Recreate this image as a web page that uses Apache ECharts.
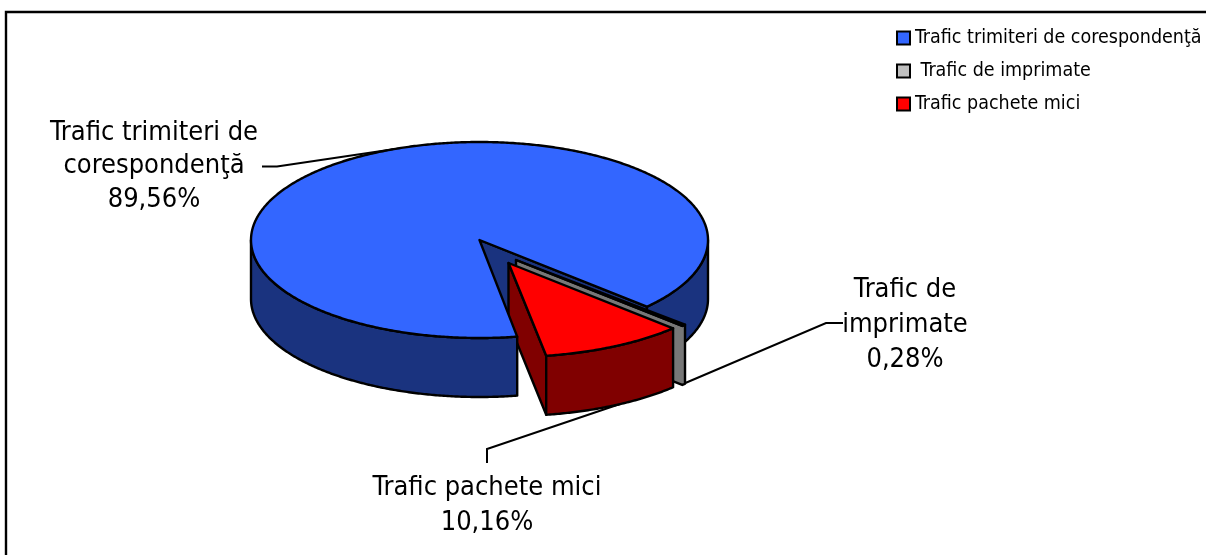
<!DOCTYPE html>
<html>
<head>
<meta charset="utf-8">
<style>html,body{margin:0;padding:0;background:#fff}#chart{width:1206px;height:555px}</style>
<script src="https://cdn.jsdelivr.net/npm/echarts@6/dist/echarts.min.js"></script>
</head>
<body>
<div id="chart"></div>
<script>
const categories = ['Trafic trimiteri de corespondenţă', 'Trafic de imprimate', 'Trafic pachete mici'];
const values = [89.56, 0.28, 10.16];
const labelLines = [['Trafic trimiteri de', 'corespondenţă'], ['Trafic de', 'imprimate'], ['Trafic pachete mici']];

const FONT = '"DejaVu Sans Condensed", "DejaVu Sans", sans-serif';
const STROKE = '#000';

// pie drawn as a tilted ellipse, angles are clockwise from 12 o'clock
const pie = { cx: 479.5, cy: 240, rx: 228.5, ry: 98, depth: 59, start: 170.5 };

const sliceStyles = [
  { top: '#3366ff', side: '#1a337f', dx: 0, dy: 0, sx: 1, sy: 1, zWall: 2, zBand: 6, zBandBack: 1 },
  { top: '#c0c0c0', side: '#777777', dx: 36.5, dy: 20, sx: 1.01, sy: 0.97, zWall: 3, zBand: 3, zBandBack: 3, thin: true },
  { top: '#ff0000', side: '#800000', dx: 29, dy: 23, sx: 1, sy: 0.96, zWall: 4, zBand: 5, zBandBack: 5 }
];

const labelLayout = [
  { x: 154, y: 166, lh: 33.5, line: [[262, 166.5], [277, 166.5], [395, 149]] },
  { x: 905, y: 325, lh: 35, line: [[843, 323], [826, 323], [683, 384]] },
  { x: 487, y: 505, lh: 35, line: [[487, 463], [487, 449], [620, 404]] }
];

const total = values.reduce((a, b) => a + b, 0);

const sliceRange = index => {
  let from = pie.start;
  for (let i = 0; i < index; i++) from += (values[i] / total) * 360;
  return [from, from + (values[index] / total) * 360];
};

const pointAt = (s, deg, drop = 0) => {
  const rad = (deg * Math.PI) / 180;
  return [
    pie.cx + s.dx + pie.rx * s.sx * Math.sin(rad),
    pie.cy + s.dy - pie.ry * s.sy * Math.cos(rad) + drop
  ];
};

const arc = (s, from, to, drop = 0) => {
  const steps = Math.max(2, Math.ceil((to - from) * 2));
  const pts = [];
  for (let i = 0; i <= steps; i++) pts.push(pointAt(s, from + ((to - from) * i) / steps, drop));
  return pts;
};

const poly = (points, fill, z2) => ({
  type: 'polygon',
  z2,
  shape: { points },
  style: { fill, stroke: STROKE, lineWidth: 2.4, lineJoin: 'round' }
});

// cut face hanging from the edge at deg; rimTo also wraps it round the rim
const wall = (s, deg, rimTo = deg) => {
  const apex = [pie.cx + s.dx, pie.cy + s.dy];
  const rim = arc(s, deg, rimTo);
  return poly(
    [apex].concat(rim, arc(s, deg, rimTo, pie.depth).reverse(), [[apex[0], apex[1] + pie.depth]]),
    s.side,
    s.zWall
  );
};

const renderSlice = index => params => {
  const s = sliceStyles[index];
  const [from, to] = sliceRange(index);
  const children = [];

  // outer rim, only the part facing the viewer
  if (!s.thin) {
    [[90, 270, s.zBand], [450, 630, s.zBandBack]].forEach(([lo, hi, z2]) => {
      const a = Math.max(from, lo);
      const b = Math.min(to, hi);
      if (a < b) {
        children.push(poly(arc(s, a, b).concat(arc(s, a, b, pie.depth).reverse()), s.side, z2));
      }
    });
  }

  // cut faces
  const endMod = to % 360;
  const startMod = from % 360;
  if (s.thin) children.push(wall(s, to, from));
  else if (endMod > 0 && endMod < 180) children.push(wall(s, to));
  else if (startMod > 180) children.push(wall(s, from));

  // top surface
  children.push(poly([[pie.cx + s.dx, pie.cy + s.dy]].concat(arc(s, from, to)), s.top, 7));

  // leader line and label
  const l = labelLayout[index];
  children.push({
    type: 'polyline',
    z2: 0,
    shape: { points: l.line },
    style: { fill: null, stroke: STROKE, lineWidth: 2 }
  });
  const pct = values[index].toFixed(2).replace('.', ',') + '%';
  children.push({
    type: 'text',
    z2: 8,
    style: {
      x: l.x,
      y: l.y,
      text: labelLines[index].concat(pct).join('\n'),
      font: '27px ' + FONT,
      lineHeight: l.lh,
      align: 'center',
      verticalAlign: 'middle',
      fill: '#000'
    }
  });
  return { type: 'group', children };
};

const chart = echarts.init(document.getElementById('chart'));

chart.setOption({
  animation: false,
  backgroundColor: '#fff',
  graphic: [{
    type: 'rect',
    silent: true,
    shape: { x: 6, y: 12, width: 1400, height: 800 },
    style: { fill: null, stroke: '#000', lineWidth: 2.4 }
  }],
  legend: {
    orient: 'vertical',
    left: 896,
    top: 28,
    padding: 0,
    itemWidth: 13,
    itemHeight: 13,
    itemGap: 13,
    icon: 'rect',
    itemStyle: { borderColor: '#000', borderWidth: 2 },
    textStyle: { fontFamily: FONT, fontSize: 19.5, color: '#000' },
    formatter: name => (name === categories[1] ? '\u00a0' + name : name),
    data: categories
  },
  series: categories.map((name, i) => ({
    type: 'custom',
    name,
    coordinateSystem: 'none',
    silent: true,
    itemStyle: { color: sliceStyles[i].top },
    renderItem: renderSlice(i),
    data: [values[i]]
  }))
});
</script>
</body>
</html>
